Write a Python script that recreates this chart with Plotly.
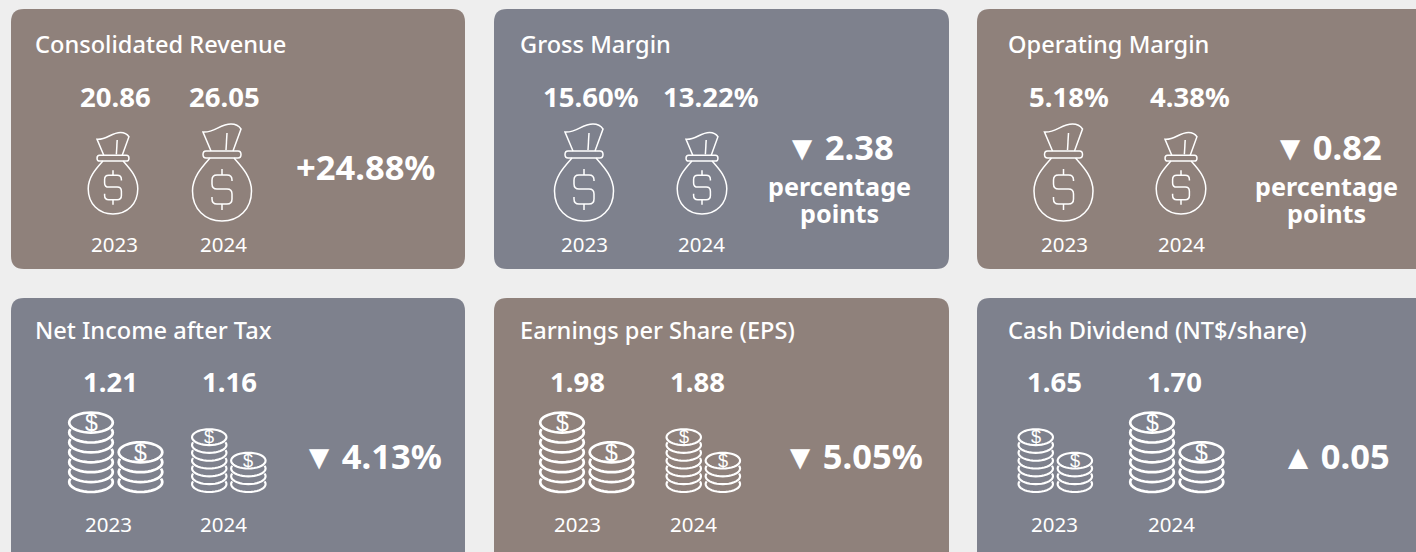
import plotly.graph_objects as go
import numpy as np

# ---- data ----
titles = ["Consolidated Revenue", "Gross Margin", "Operating Margin",
          "Net Income after Tax", "Earnings per Share (EPS)", "Cash Dividend (NT$/share)"]
years = ["2023", "2024"]
values_2023 = [20.86, 15.60, 5.18, 1.21, 1.98, 1.65]
values_2024 = [26.05, 13.22, 4.38, 1.16, 1.88, 1.70]
units = ["", "%", "%", "", "", ""]
changes = ["+24.88%", "▼\u20092.38", "▼\u20090.82", "▼\u20094.13%", "▼\u20095.05%", "▲\u20090.05"]
change_notes = [[], ["percentage", "points"], ["percentage", "points"], [], [], []]
icons = ["bag", "bag", "bag", "coins", "coins", "coins"]

# ---- layout (pixels) ----
BROWN, SLATE, BG = "#8F817B", "#7E818D", "#EEEEEE"
card_fill = [BROWN, SLATE, BROWN, SLATE, BROWN, SLATE]
card_box = [(11, 9, 465, 269), (494, 9, 949, 269), (977, 9, 1440, 269),
            (11, 298, 465, 580), (494, 298, 949, 580), (977, 298, 1440, 580)]
title_x = [33, 518, 1006, 33, 518, 1006]
title_y = [44, 44, 44, 330, 330, 330]
value_x = [(115.5, 224.5), (590, 710), (1069, 1190), (110, 229), (577, 697), (1054, 1174.5)]
value_y = [96, 96, 96, 381, 381, 381]
year_x = [(114, 223), (584, 701), (1064.5, 1181.5), (108.5, 223), (577, 693), (1054, 1171)]
year_y = [244, 244, 244, 524, 524, 524]
icon_x = [(113, 222), (584, 702), (1063.5, 1181), (116, 229), (587, 703.5), (1055.5, 1177)]
icon_y = [221, 221, 221, 492, 492, 492]
change_x = [365, 839, 1327, 372, 853, 1335]
change_y = [166, 146, 146, 455, 455, 455]
note_x = [0, 839, 1326, 0, 0, 0]
note_y = [0, 186, 186, 0, 0, 0]
NOTE_GAP = 27

shapes, notes = [], []


def txt(x, y, s, size, weight=400, anchor="center", family="Noto Sans"):
    notes.append(dict(x=x, y=y, xref="x", yref="y", text=s, showarrow=False,
                      xanchor=anchor, yanchor="middle", align="center",
                      font=dict(family=family, size=size, color="white", weight=weight)))


def line(path, width):
    shapes.append(dict(type="path", path=path, xref="x", yref="y",
                       line=dict(color="white", width=width), fillcolor="rgba(0,0,0,0)"))


def rounded(x0, y0, x1, y1, r, fill):
    p = (f"M{x0+r},{y0} L{x1-r},{y0} Q{x1},{y0} {x1},{y0+r} L{x1},{y1-r} Q{x1},{y1} {x1-r},{y1} "
         f"L{x0+r},{y1} Q{x0},{y1} {x0},{y1-r} L{x0},{y0+r} Q{x0},{y0} {x0+r},{y0} Z")
    shapes.append(dict(type="path", path=p, xref="x", yref="y", line=dict(width=0), fillcolor=fill))


def bag(cx, by, s):
    X = lambda v: f"{cx + v * s:.2f}"
    Y = lambda v: f"{by + v * s:.2f}"
    P = lambda a, b: f"{X(a)},{Y(b)}"
    w = 1.5
    # body
    line(f"M{P(-12,-63)} C{P(-20,-54)} {P(-29.5,-44)} {P(-29.5,-30)} C{P(-29.5,-12)} {P(-17,0)} {P(0,0)} "
         f"C{P(17,0)} {P(29.5,-12)} {P(29.5,-30)} C{P(29.5,-44)} {P(20,-54)} {P(12,-63)}", w)
    # collar
    line(f"M{P(-16,-70)} L{P(16,-70)} Q{P(19,-70)} {P(19,-66.5)} Q{P(19,-63)} {P(16,-63)} L{P(-16,-63)} "
         f"Q{P(-19,-63)} {P(-19,-66.5)} Q{P(-19,-70)} {P(-16,-70)} Z", w)
    # tie top
    line(f"M{P(-11,-70)} L{P(-19,-89)} C{P(-8,-88)} {P(-2,-97)} {P(9,-97)} C{P(14,-97)} {P(17,-95)} {P(19,-92)} "
         f"L{P(11,-70)}", w)
    line(f"M{P(5,-88)} L{P(4,-71)}", w)
    # dollar
    line(f"M{P(10,-40)} L{P(10,-41)} Q{P(10,-46)} {P(5,-46)} L{P(-5,-46)} Q{P(-10,-46)} {P(-10,-41)} "
         f"L{P(-10,-37)} Q{P(-10,-32)} {P(-5,-32)} L{P(5,-32)} Q{P(10,-32)} {P(10,-27)} L{P(10,-22)} "
         f"Q{P(10,-17)} {P(5,-17)} L{P(-5,-17)} Q{P(-10,-17)} {P(-10,-22)} L{P(-10,-24)}", w)
    line(f"M{P(0,-52)} L{P(0,-46)} M{P(0,-17)} L{P(0,-11)}", w)


def ellipse_path(cx, cy, rx, ry, a0, a1, close=False):
    t = np.radians(np.arange(a0, a1 + 0.1, 10))
    pts = [f"{cx + rx*np.cos(a):.2f},{cy + ry*np.sin(a):.2f}" for a in t]
    return "M" + " L".join(pts) + (" Z" if close else "")


def stack(cx, by, s, rims):
    rx, ry, gap = 21.8 * s, 10.0 * s, 9.9 * s
    w = 2.7 * s
    for i in range(rims):
        cy = by - ry - i * gap
        line(ellipse_path(cx, cy, rx, ry, -20, 200), w)
    cy = by - ry - rims * gap
    line(ellipse_path(cx, cy, rx, ry, 0, 360, True), w)
    txt(cx, cy + 0.3 * s, "$", 23 * s, 400, family="Liberation Sans")


def coins(cx, by, s):
    stack(cx - 25 * s, by, s, 6)
    stack(cx + 24.5 * s, by, s, 3)


for i in range(6):
    rounded(*card_box[i], 13, card_fill[i])

for i in range(6):
    txt(title_x[i], title_y[i], titles[i], 23.6, 500, "left")
    vals = (values_2023[i], values_2024[i])
    for j in range(2):
        txt(value_x[i][j], value_y[i], f"{vals[j]:.2f}{units[i]}", 27.5, 700)
        txt(year_x[i][j], year_y[i], years[j], 20.5, 400)
        big = vals[j] == max(vals)
        if icons[i] == "bag":
            bag(icon_x[i][j], icon_y[i] - (0 if big else 7), 1.0 if big else 0.84)
        else:
            coins(icon_x[i][j], icon_y[i], 1.0 if big else 0.79)
    txt(change_x[i], change_y[i], changes[i], 34.5, 700)
    for k, part in enumerate(change_notes[i]):
        txt(note_x[i], note_y[i] + k * NOTE_GAP, part, 25.2, 700)

fig = go.Figure()
fig.update_layout(
    width=1416, height=552, margin=dict(l=0, r=0, t=0, b=0),
    paper_bgcolor=BG, plot_bgcolor=BG, showlegend=False,
    shapes=shapes, annotations=notes,
    xaxis=dict(range=[0, 1416], visible=False, fixedrange=True),
    yaxis=dict(range=[552, 0], visible=False, fixedrange=True),
)
fig.write_html("out.html", config=dict(displayModeBar=False),
               post_script="document.body.style.margin='0';document.body.style.overflow='hidden';")
